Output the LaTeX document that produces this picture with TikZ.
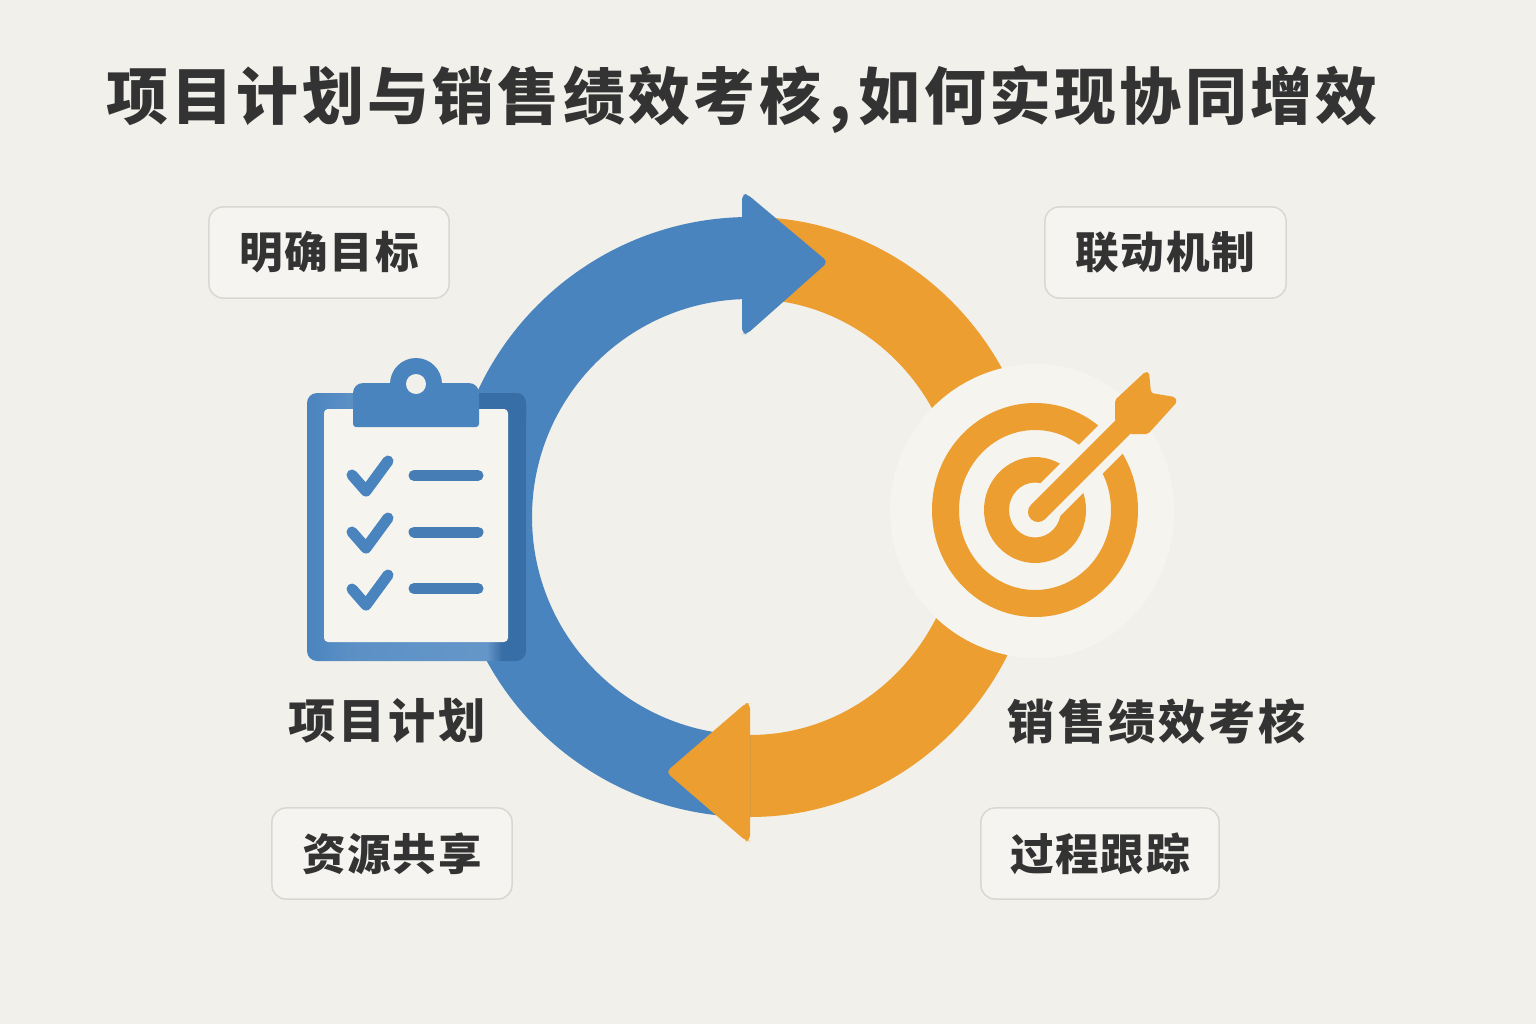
\documentclass[tikz,border=0pt]{standalone}
\usepackage{fontspec}
\setmainfont{Noto Sans CJK SC}
\usetikzlibrary{positioning}
\definecolor{pagebg}{HTML}{F2F0EA}
\definecolor{halo}{HTML}{F6F4EE}
\definecolor{ringblue}{HTML}{4A84BF}
\definecolor{ringorange}{HTML}{EC9E30}
\definecolor{inkdark}{HTML}{333333}
\definecolor{boxline}{HTML}{D9D7D1}
\definecolor{framedark}{HTML}{386EA6}
\pgfdeclarehorizontalshading{framegrad}{100bp}{
  color(0bp)=(ringblue); color(25bp)=(ringblue); color(35bp)=(ringblue!90!white);
  color(66bp)=(ringblue!85!white); color(69.5bp)=(framedark);
  color(75bp)=(framedark); color(100bp)=(framedark)}
\begin{document}
\begin{tikzpicture}
      [x=0.01cm,y=-0.01cm,
      label box/.style={draw=boxline,line width=0.015cm,rounded corners=0.14cm,fill=pagebg!70!white,
        minimum width=2.4cm,minimum height=0.91cm,text=inkdark,font=\fontsize{12.4pt}{15pt}\selectfont\bfseries\addfontfeature{LetterSpace=4}},
      main label/.style={text=inkdark,font=\fontsize{13.4pt}{16pt}\selectfont\bfseries\addfontfeature{LetterSpace=6.5}},
      check mark/.style={draw=ringblue,line width=0.11cm,line cap=round,line join=round},
      check line/.style={draw=ringblue!95!black,line width=0.11cm,line cap=round}]
      \useasboundingbox[fill=pagebg] (0,0) rectangle (1536,1024);
      \coordinate (ringc) at (750,517);
      \coordinate (targetc) at (1035,510);
      \node[text=inkdark,font=\fontsize{17.6pt}{22pt}\selectfont\bfseries\addfontfeature{LetterSpace=5.5}] (title) at (742,100)
        {项目计划与销售绩效考核\kern0.08cm,\kern0.08cm如何实现协同增效};
      \node[label box] (goal) at (329,252.5) {明确目标};
      \node[label box,minimum width=2.41cm] (link) at (1165.5,252.5) {联动机制};
      \node[label box] (share) at (392,853.5) {资源共享};
      \node[label box,minimum width=2.38cm] (track) at (1100,853.5) {过程跟踪};
      \node[main label] (plan) at (387,721) {项目计划};
      \node[main label] (sales) at (1157,721) {销售绩效考核};
      \fill[ringorange] (ringc) ++(0,-300) arc[start angle=270,end angle=450,x radius=290,y radius=300]
        -- ++(0,-82) arc[start angle=450,end angle=270,x radius=210,y radius=218] -- cycle;
      \fill[ringblue] (ringc) ++(270:300) arc[start angle=270,end angle=90,radius=300]
        -- ++(0,-82) arc[start angle=90,end angle=270,radius=218] -- cycle;
      \fill[ringblue,rounded corners=0.05cm] (742,260) -- (742,194) -- (747,194) -- (828,262)
        -- (747,334) -- (742,334) -- cycle;
      \fill[ringorange,rounded corners=0.05cm] (750,770) -- (750,703) -- (746,703) -- (666,772)
        -- (746,841) -- (750,841) -- cycle;
      \fill[halo] (1037,364) arc[start angle=270,end angle=90,radius=147]
        arc[start angle=90,end angle=-90,x radius=137,y radius=147] -- cycle;
      \fill[ringorange,even odd rule] (targetc) ellipse[x radius=103,y radius=107]
        (targetc) ellipse[x radius=76,y radius=80];
      \fill[ringorange,even odd rule] (targetc) ellipse[x radius=51,y radius=53]
        (targetc) ellipse[x radius=26,y radius=27.5];
      \draw[halo,line width=0.37cm] (1035,515) -- (1135,415);
      \draw[ringorange,line width=0.2cm,line cap=round] (1038,512) -- (1125,425);
      \fill[ringorange,rounded corners=0.02cm] (1115,421) -- (1115,400) -- (1145,372) -- (1149,372)
        -- (1151,393) -- (1175,397) -- (1177,402) -- (1148,434) -- (1130,434) -- cycle;
      \shade[shading=framegrad,rounded corners=0.1cm] (307,393) rectangle (526,661);
      \fill[framedark,rounded corners=0.1cm] (470,393) rectangle (526,430);
      \fill[halo,rounded corners=0.04cm] (324,409) rectangle (508,642);
      \fill[ringblue] (416,384) circle[radius=26];
      \fill[ringblue] (353,427) [rounded corners=0.1cm] -- (353,383) -- (479,383) [rounded corners=0.03cm] -- (479,427) -- cycle;
      \fill[pagebg] (416,384) circle[radius=10];
      \draw[check mark] (352,475) -- (366,491) -- (388,461);
      \draw[check mark] (352,532) -- (366,548) -- (388,518);
      \draw[check mark] (352,589) -- (366,605) -- (388,575);
      \draw[check line] (414,475.5) -- (478,475.5);
      \draw[check line] (414,532) -- (478,532);
      \draw[check line] (414,588.5) -- (478,588.5);
    \end{tikzpicture}
\end{document}
